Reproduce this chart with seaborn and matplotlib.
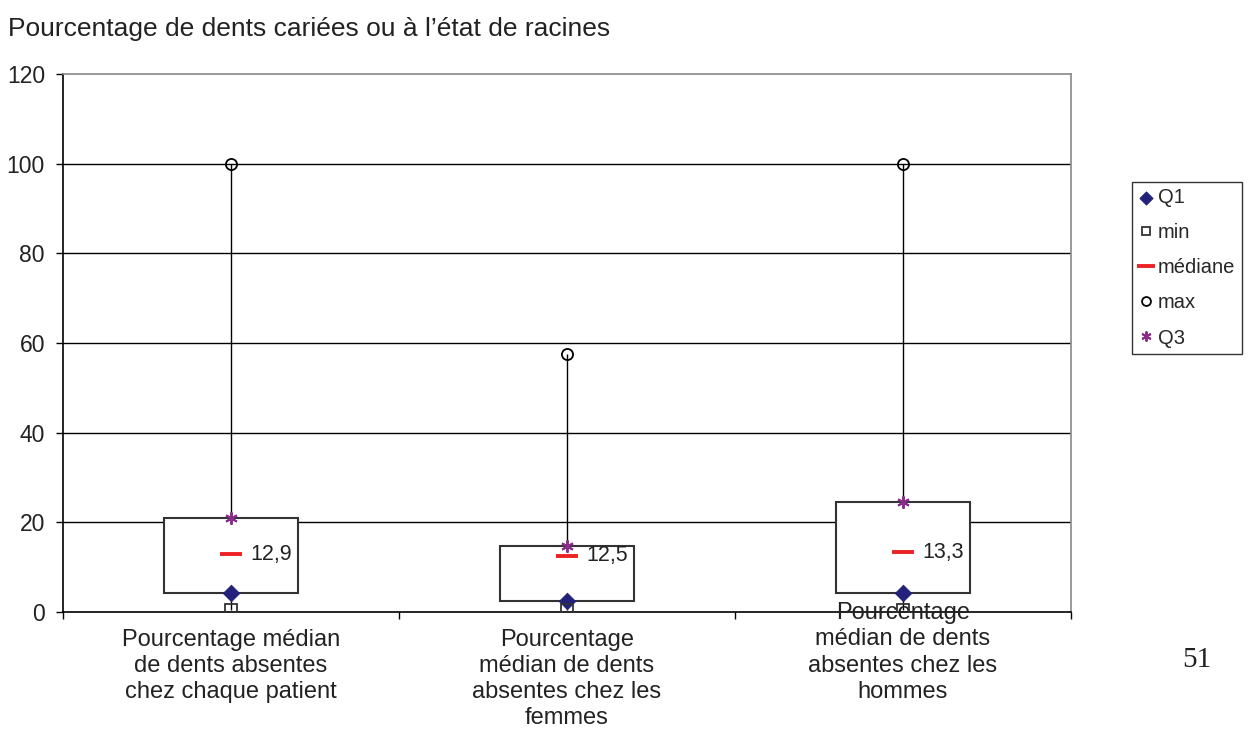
import seaborn as sns
import pandas as pd
import matplotlib.pyplot as plt
import numpy as np

# Valeurs
categories = ["Pourcentage médian\nde dents absentes\nchez chaque patient",
              "Pourcentage\nmédian de dents\nabsentes chez les\nfemmes",
              "Pourcentage\nmédian de dents\nabsentes chez les\nhommes"]
q1 = [4.2, 2.4, 4.2]
minimum = [0.5, 0.4, 0.5]
mediane = [12.9, 12.5, 13.3]
maximum = [100, 57.5, 100]
q3 = [21.0, 14.7, 24.4]
yticks = [0, 20, 40, 60, 80, 100, 120]

sns.set_theme(style="white")
plt.rcParams['font.family'] = ['Liberation Sans', 'DejaVu Sans']

df = pd.DataFrame({"pos": np.arange(len(categories)), "Q1": q1, "min": minimum,
                   "médiane": mediane, "max": maximum, "Q3": q3})

fig = plt.figure(figsize=(12.48, 7.31), dpi=100)
ax = fig.add_axes([0.0505, 0.163, 0.8075, 0.736])

# lignes de grille horizontales
for y in yticks[1:-1]:
    ax.axhline(y, color="black", lw=1, zorder=0)

# moustaches min -> max
ax.vlines(df["pos"], df["min"], df["max"], color="black", lw=1, zorder=1)

# boîtes Q1 -> Q3
ax.bar(df["pos"], df["Q3"] - df["Q1"], bottom=df["Q1"], width=0.4,
       color="white", edgecolor="#333333", linewidth=1.5, zorder=2)

# marqueurs
sns.scatterplot(data=df, x="pos", y="Q1", marker="D", s=70, color="#22227a",
                edgecolor="#22227a", zorder=4, ax=ax, label="Q1")
ax.plot(df["pos"], df["min"], ls="", marker="s", ms=8, mfc="none", mec="#333333",
        mew=1.3, zorder=4, label="min")
ax.plot(df["pos"], df["médiane"], ls="", marker="_", ms=16, mec="#ee2222",
        mew=2.8, zorder=4, label="médiane")
ax.plot(df["pos"], df["max"], ls="", marker="o", ms=8, mfc="none", mec="black",
        mew=1.3, zorder=4, label="max")
ax.plot(df["pos"], df["Q3"], ls="", marker=(6, 2, 0), ms=9, mec="#8a2a8a",
        mew=1.4, zorder=4, label="Q3")

for x, m in zip(df["pos"], mediane):
    ax.annotate(f"{m:.1f}".replace(".", ","), (x, m), xytext=(14, 0),
                textcoords="offset points", va="center", ha="left",
                fontsize=15.5, color="#222222", zorder=5)

ax.set_xlim(-0.5, 2.5)
ax.set_ylim(0, 120)
ax.set_yticks(yticks)
ax.set_yticklabels([str(v) for v in yticks], fontsize=16.5, color="#222222")
ax.set_xticks([-0.5, 0.5, 1.5, 2.5])
ax.set_xticklabels([])
ax.tick_params(axis="both", direction="out", length=5, width=1, color="black",
               left=True, bottom=True)
ax.tick_params(axis="y", pad=8)
ax.set_xlabel("")
ax.set_ylabel("")

for s in ["left", "bottom"]:
    ax.spines[s].set_color("black")
    ax.spines[s].set_linewidth(1.2)
for s in ["top", "right"]:
    ax.spines[s].set_color("#888888")
    ax.spines[s].set_linewidth(1.2)

# étiquettes des catégories
decalage = [-12, -12, 7]
for i, lab in enumerate(categories):
    ax.annotate(lab, (i, 0), xycoords=("data", "axes fraction"),
                xytext=(0, decalage[i]), textcoords="offset points",
                ha="center", va="top", fontsize=17, color="#222222",
                linespacing=1.25, annotation_clip=False)

ax.get_legend().remove()
handles, labels = ax.get_legend_handles_labels()
leg = fig.legend(handles, labels, loc="upper left", bbox_to_anchor=(0.907, 0.751),
                 fontsize=14.5, frameon=True, fancybox=False, edgecolor="black",
                 handlelength=0.75, handletextpad=0.25, labelspacing=0.8,
                 borderpad=0.3, borderaxespad=0, markerscale=0.8)
leg.get_frame().set_linewidth(1.0)

fig.text(0.0064, 0.961, "Pourcentage de dents cariées ou à l\u2019état de racines",
         fontsize=19, color="#222222", va="center", ha="left")
fig.text(0.959, 0.097, "51", fontsize=21, family="Liberation Serif", color="#222222",
         ha="center", va="center")

plt.savefig("out.png", dpi=100)
